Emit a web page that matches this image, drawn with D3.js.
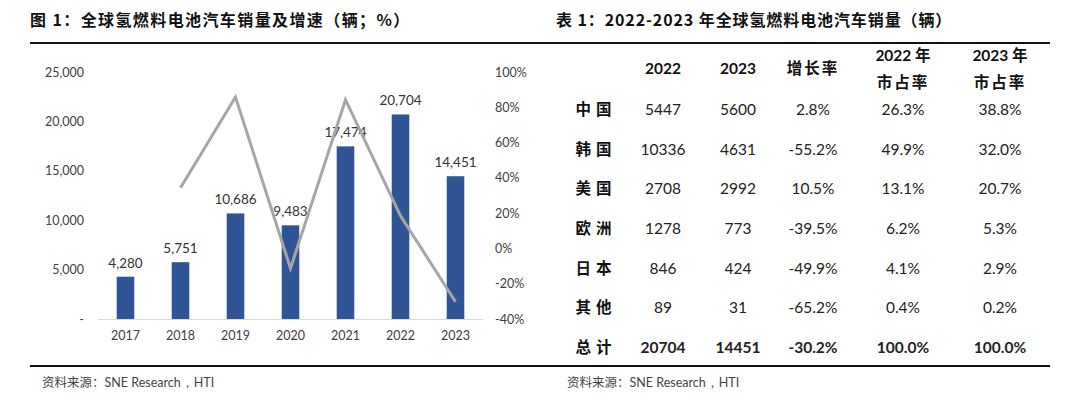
<!DOCTYPE html>
<html>
<head>
<meta charset="utf-8">
<script src="https://cdn.jsdelivr.net/npm/d3@7"></script>
<style>
  body { margin: 0; background: #fff; }
  svg { display: block; }
</style>
</head>
<body>
<svg id="chart" width="1080" height="400"></svg>
<script>
// données du graphique (图 1)
const years = ["2017", "2018", "2019", "2020", "2021", "2022", "2023"];
const sales = [4280, 5751, 10686, 9483, 17474, 20704, 14451];
const growth = [null, 34.4, 85.8, -11.3, 84.3, 18.5, -30.2];
const salesTicks = [0, 5000, 10000, 15000, 20000, 25000];
const growthTicks = [-40, -20, 0, 20, 40, 60, 80, 100];

// données du tableau (表 1)
const tableHeader = [["2022"], ["2023"], ["增长率"], ["2022 年", "市占率"], ["2023 年", "市占率"]];
const regions = ["中国", "韩国", "美国", "欧洲", "日本", "其他", "总计"];
const sales2022 = ["5447", "10336", "2708", "1278", "846", "89", "20704"];
const sales2023 = ["5600", "4631", "2992", "773", "424", "31", "14451"];
const growthRate = ["2.8%", "-55.2%", "10.5%", "-39.5%", "-49.9%", "-65.2%", "-30.2%"];
const share2022 = ["26.3%", "49.9%", "13.1%", "6.2%", "4.1%", "0.4%", "100.0%"];
const share2023 = ["38.8%", "32.0%", "20.7%", "5.3%", "2.9%", "0.2%", "100.0%"];

const svg = d3.select("#chart");
const cjk = "'Noto Sans CJK SC', sans-serif";
const latin = "Lato, 'Open Sans', sans-serif";

// titres + lignes de séparation
svg.append("text").attr("x", 30).attr("y", 26)
  .style("font-family", cjk).style("font-weight", 700).style("font-size", "16px")
  .style("letter-spacing", "1.4px")
  .attr("fill", "#111").text("图 1：全球氢燃料电池汽车销量及增速（辆；%）");

svg.append("text").attr("x", 556).attr("y", 26)
  .style("font-family", cjk).style("font-weight", 700).style("font-size", "16px")
  .style("letter-spacing", "0.9px")
  .attr("fill", "#111").text("表 1：2022-2023 年全球氢燃料电池汽车销量（辆）");

svg.append("line").attr("x1", 30).attr("x2", 1050).attr("y1", 43).attr("y2", 43)
  .attr("stroke", "#111").attr("stroke-width", 2);
svg.append("line").attr("x1", 30).attr("x2", 1050).attr("y1", 366).attr("y2", 366)
  .attr("stroke", "#111").attr("stroke-width", 2);

// sources
[42, 567].forEach(function(x) {
  svg.append("text").attr("x", x).attr("y", 387)
    .style("font-size", "12.5px").attr("fill", "#444")
    .call(function(t) {
      t.append("tspan").style("font-family", cjk).text("资料来源：");
      t.append("tspan").style("font-family", latin).text("SNE Research，HTI");
    });
});

// échelles
const x = d3.scaleBand().domain(years).range([98, 483]).paddingInner(0.68).paddingOuter(0.34);
const yLeft = d3.scaleLinear().domain([0, 25000]).range([319, 72]);
const yRight = d3.scaleLinear().domain([-40, 100]).range([319, 72]);

// axe gauche
const leftAxis = svg.append("g").attr("transform", "translate(84,0)")
  .call(d3.axisLeft(yLeft).tickValues(salesTicks).tickSize(0).tickPadding(0)
    .tickFormat(function(d) { return d === 0 ? "-" : d3.format(",")(d); }));
leftAxis.select(".domain").remove();

// axe droit
const rightAxis = svg.append("g").attr("transform", "translate(495,0)")
  .call(d3.axisRight(yRight).tickValues(growthTicks).tickSize(0).tickPadding(0)
    .tickFormat(function(d) { return d + "%"; }));
rightAxis.select(".domain").remove();

// axe x
const xAxis = svg.append("g").attr("transform", "translate(0,319)")
  .call(d3.axisBottom(x).tickSize(0).tickPadding(12));
xAxis.select(".domain").attr("stroke", "#d9d9d9").attr("d", "M98,0.5H483");

[leftAxis, rightAxis, xAxis].forEach(function(a) {
  a.selectAll("text").style("font-family", latin).style("font-size", "12.5px").attr("fill", "#404040");
});

// barres
svg.selectAll("rect.bar").data(sales).enter().append("rect")
  .attr("class", "bar")
  .attr("x", function(d, i) { return x(years[i]); })
  .attr("y", function(d) { return yLeft(d); })
  .attr("width", x.bandwidth())
  .attr("height", function(d) { return yLeft(0) - yLeft(d); })
  .attr("fill", "#2F5597");

// étiquettes des barres
svg.selectAll("text.value").data(sales).enter().append("text")
  .attr("class", "value")
  .attr("x", function(d, i) { return x(years[i]) + x.bandwidth() / 2; })
  .attr("y", function(d) { return yLeft(d) - 9; })
  .attr("text-anchor", "middle")
  .style("font-family", latin).style("font-size", "13.5px").attr("fill", "#333")
  .text(function(d) { return d3.format(",")(d); });

// courbe de croissance
const line = d3.line()
  .defined(function(d) { return d !== null; })
  .x(function(d, i) { return x(years[i]) + x.bandwidth() / 2; })
  .y(function(d) { return yRight(d); });

svg.append("path").datum(growth)
  .attr("d", line)
  .attr("fill", "none")
  .attr("stroke", "#A6A6A6")
  .attr("stroke-width", 3);

// tableau
const colX = [663, 738, 813, 903, 1000];
const rowY = d3.scalePoint().domain(regions).range([109, 347]);

tableHeader.forEach(function(h, i) {
  const t = svg.append("text").attr("x", colX[i]).attr("text-anchor", "middle")
    .style("font-weight", 700).style("font-size", "15.5px").attr("fill", "#111");
  if (h.length === 1) {
    t.attr("y", 74).style("font-family", /\d/.test(h[0]) ? latin : cjk)
      .style("letter-spacing", /\d/.test(h[0]) ? "0px" : "2px").text(h[0]);
  } else {
    t.attr("y", 61);
    const parts = h[0].split(" ");
    const first = t.append("tspan").attr("x", colX[i]).style("font-family", latin).text(parts[0] + "\u00a0");
    first.append("tspan").style("font-family", cjk).text(parts[1]);
    t.append("tspan").attr("x", colX[i]).attr("dy", 27).style("font-family", cjk)
      .style("letter-spacing", "2px").text(h[1]);
  }
});

const columns = [sales2022, sales2023, growthRate, share2022, share2023];
regions.forEach(function(r, j) {
  const y = rowY(r) + 6;
  const bold = j === regions.length - 1 ? 700 : 400;
  svg.append("text").attr("x", 596).attr("y", y).attr("text-anchor", "middle")
    .style("font-family", cjk).style("font-weight", 700).style("font-size", "15.5px")
    .style("letter-spacing", "5px").attr("fill", "#111").text(r);
  columns.forEach(function(col, i) {
    svg.append("text").attr("x", colX[i]).attr("y", y).attr("text-anchor", "middle")
      .style("font-family", latin).style("font-weight", bold).style("font-size", "15.5px")
      .attr("fill", "#222").text(col[j]);
  });
});
</script>
</body>
</html>
